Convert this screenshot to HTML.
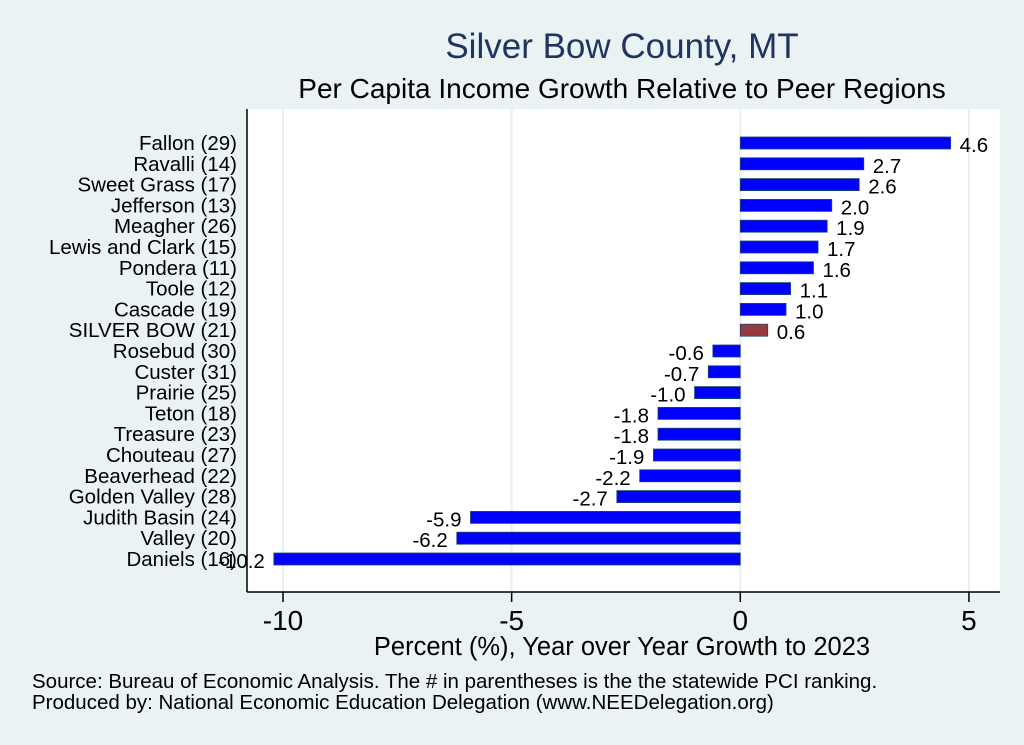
<!DOCTYPE html>
<html><head><meta charset="utf-8"><style>
body{margin:0;background:#eaf2f3;}
svg{display:block;font-family:"Liberation Sans",Arial,sans-serif;}
</style></head><body>
<svg id="chart" width="1024" height="745">
<rect x="0" y="0" width="1024" height="745" fill="#eaf2f3"/>
<rect x="247" y="109" width="753" height="483" fill="#ffffff"/>
<text x="622" y="58" font-size="35" fill="#1f3461" text-anchor="middle">Silver Bow County, MT</text>
<text x="622" y="98" font-size="28" fill="#000" text-anchor="middle">Per Capita Income Growth Relative to Peer Regions</text>
<g id="grid"></g>
<g id="bars"></g>
<line x1="247" y1="109" x2="247" y2="592" stroke="#000" stroke-width="1.5"/>
<line x1="247" y1="592" x2="1000" y2="592" stroke="#000" stroke-width="1.5"/>
<g id="xticks"></g>
<text x="622" y="655" font-size="25.5" text-anchor="middle">Percent (%), Year over Year Growth to 2023</text>
<text x="32" y="688" font-size="20.5">Source: Bureau of Economic Analysis. The # in parentheses is the the statewide PCI ranking.</text>
<text x="32" y="709" font-size="20.5">Produced by: National Economic Education Delegation (www.NEEDelegation.org)</text>
</svg>
<script>
const categories=["Fallon (29)","Ravalli (14)","Sweet Grass (17)","Jefferson (13)","Meagher (26)","Lewis and Clark (15)","Pondera (11)","Toole (12)","Cascade (19)","SILVER BOW (21)","Rosebud (30)","Custer (31)","Prairie (25)","Teton (18)","Treasure (23)","Chouteau (27)","Beaverhead (22)","Golden Valley (28)","Judith Basin (24)","Valley (20)","Daniels (16)"];
const values=[4.6,2.7,2.6,2.0,1.9,1.7,1.6,1.1,1.0,0.6,-0.6,-0.7,-1.0,-1.8,-1.8,-1.9,-2.2,-2.7,-5.9,-6.2,-10.2];
const highlight="SILVER BOW (21)";
const xTicks=[-10,-5,0,5];
const NS="http://www.w3.org/2000/svg";
const x=v=>740.3+v*45.73;
const y=i=>143+i*20.8;
function mk(tag,attrs,parent,txt){const e=document.createElementNS(NS,tag);for(const k in attrs)e.setAttribute(k,attrs[k]);if(txt!==undefined)e.textContent=txt;parent.appendChild(e);return e;}
const grid=document.getElementById('grid'),bars=document.getElementById('bars'),xt=document.getElementById('xticks');
xTicks.forEach(t=>{
  const g=mk('line',{x1:x(t),x2:x(t),y1:109,y2:592,stroke:'#e6eef1','stroke-width':2},grid);
  
  
  const tk=mk('line',{x1:x(t),x2:x(t),y1:592,y2:602,stroke:'#000','stroke-width':1.5},xt);
  
  
  const tl=mk('text',{x:x(t),y:630,'font-size':28,'text-anchor':'middle'},xt,String(t));
  
  
});
categories.forEach((c,i)=>{
  const v=values[i],cy=y(i);
  const x0=Math.min(x(0),x(v)),w=Math.abs(x(v)-x(0));
  const r=mk('rect',{x:x0,y:cy-6,width:w,height:12,fill:c===highlight?'#963a3e':'#0000ff',stroke:'#1a4a6a','stroke-width':0.8},bars);
  
  
  const lb=mk('text',{x:237,y:cy+7,'font-size':20.5,'text-anchor':'end'},bars,c);
  
  
  const vl=mk('text',{x:v>=0?x(v)+9:x(v)-9,y:cy+9,'font-size':20.5,'text-anchor':v>=0?'start':'end'},bars,v.toFixed(1));
  
  
});
</script>
</body></html>
